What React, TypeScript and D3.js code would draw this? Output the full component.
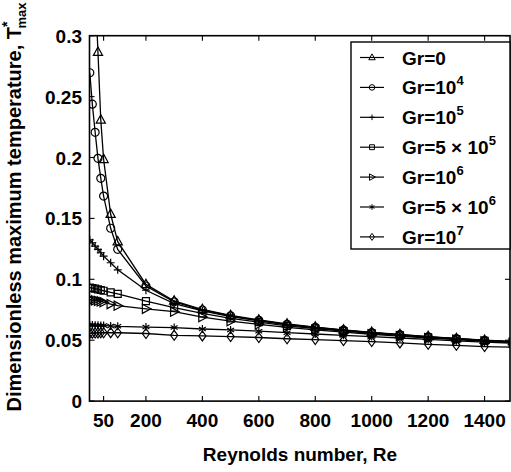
import React from 'react';
import * as d3 from 'd3';

const reValues = [1, 10, 20, 30, 40, 50, 75, 100, 200, 300, 400, 500, 600, 700, 800, 900, 1000, 1100, 1200, 1300, 1400, 1500];

const grZero = [null, null, 0.34, 0.2864, 0.2308, 0.1985, 0.1534, 0.1309, 0.0958, 0.0822, 0.0752, 0.0703, 0.0666, 0.0633, 0.0608, 0.0585, 0.0565, 0.0547, 0.0530, 0.0514, 0.0500, 0.0489];
const grE4 = [0.2696, 0.2438, 0.2207, 0.1993, 0.1829, 0.1683, 0.1419, 0.1246, 0.0945, 0.0815, 0.0748, 0.0700, 0.0663, 0.0630, 0.0606, 0.0583, 0.0563, 0.0545, 0.0528, 0.0513, 0.0499, 0.0488];
const grE5 = [0.1323, 0.1300, 0.1272, 0.1245, 0.1218, 0.1190, 0.1136, 0.1078, 0.0910, 0.0800, 0.0740, 0.0694, 0.0659, 0.0627, 0.0603, 0.0581, 0.0561, 0.0543, 0.0527, 0.0512, 0.0498, 0.0487];
const gr5E5 = [0.0931, 0.0928, 0.0924, 0.0918, 0.0912, 0.0906, 0.0893, 0.0880, 0.0820, 0.0768, 0.0720, 0.0680, 0.0648, 0.0618, 0.0596, 0.0575, 0.0556, 0.0539, 0.0523, 0.0509, 0.0495, 0.0485];
const grE6 = [0.0832, 0.0830, 0.0827, 0.0823, 0.0818, 0.0812, 0.0797, 0.0783, 0.0758, 0.0734, 0.0690, 0.0656, 0.0630, 0.0605, 0.0585, 0.0566, 0.0549, 0.0533, 0.0518, 0.0504, 0.0491, 0.0481];
const gr5E6 = [0.0625, 0.0624, 0.0623, 0.0622, 0.0621, 0.0620, 0.0617, 0.0614, 0.0608, 0.0604, 0.0592, 0.0584, 0.0574, 0.0562, 0.0551, 0.0540, 0.0530, 0.0518, 0.0506, 0.0495, 0.0484, 0.0476];
const grE7 = [0.0557, 0.0558, 0.0559, 0.0560, 0.0561, 0.0561, 0.0562, 0.0561, 0.0555, 0.0540, 0.0535, 0.0530, 0.0522, 0.0512, 0.0505, 0.0497, 0.0489, 0.0478, 0.0466, 0.0458, 0.0448, 0.0442];

const seriesValues = [grZero, grE4, grE5, gr5E5, grE6, gr5E6, grE7];
const seriesMarkers = ['triangle', 'circle', 'plus', 'square', 'right', 'star', 'diamond'];
const legendBase = ['Gr=0', 'Gr=10', 'Gr=10', 'Gr=5 \u00d7 10', 'Gr=10', 'Gr=5 \u00d7 10', 'Gr=10'];
const legendSup = ['', '4', '5', '5', '6', '6', '7'];

const xTicks = [50, 200, 400, 600, 800, 1000, 1200, 1400];
const yTicks = [0, 0.05, 0.1, 0.15, 0.2, 0.25, 0.3];
const yTickLabels = ['0', '0.05', '0.1', '0.15', '0.2', '0.25', '0.3'];

const FONT = '"Liberation Sans", Arial, Helvetica, sans-serif';

function markerPath(type: string, k: number): string {
  switch (type) {
    case 'triangle':
      return `M0,${-5.2 * k}L${4.6 * k},${3.2 * k}L${-4.6 * k},${3.2 * k}Z`;
    case 'circle': {
      const r = 4 * k;
      return `M${r},0A${r},${r} 0 1,1 ${-r},0A${r},${r} 0 1,1 ${r},0Z`;
    }
    case 'plus':
      return `M${-4 * k},0L${4 * k},0M0,${-4 * k}L0,${4 * k}`;
    case 'square':
      return `M${-3.5 * k},${-3.5 * k}L${3.5 * k},${-3.5 * k}L${3.5 * k},${3.5 * k}L${-3.5 * k},${3.5 * k}Z`;
    case 'right':
      return `M${-3.6 * k},${-4.6 * k}L${5 * k},0L${-3.6 * k},${4.6 * k}Z`;
    case 'star': {
      const a = 4 * k;
      const c = a * 0.866, s = a * 0.5;
      return `M0,${-a}L0,${a}M${-c},${-s}L${c},${s}M${-c},${s}L${c},${-s}`;
    }
    case 'diamond':
      return `M0,${-5 * k}L${3.6 * k},0L0,${5 * k}L${-3.6 * k},0Z`;
  }
  return '';
}

export default function App() {
  const W = 511, H = 472;
  const L = 89.5, R = 510, T = 35.7, B = 401.1;
  const x = d3.scaleLinear().domain([0, 1490]).range([L, R]);
  const y = d3.scaleLinear().domain([0, 0.3]).range([B, T]);

  const line = d3.line<[number, number | null]>()
    .defined(d => d[1] != null)
    .x(d => x(d[0]))
    .y(d => y(d[1] as number));

  const legX = 351, legY = 42, legW = 159, legH = 207;
  const legStep = 29.9;
  const legFirst = 57.5;

  return (
    <svg width={W} height={H} style={{ position: 'absolute', left: 0, top: 0, background: '#fff' }} fontFamily={FONT}>
      <defs>
        <clipPath id="plotClip">
          <rect x={L} y={T} width={R - L} height={B - T} />
        </clipPath>
      </defs>
      <rect x={0} y={0} width={W} height={H} fill="#fff" />
      <g clipPath="url(#plotClip)">
        {seriesValues.map((vals, si) => {
          const pts: [number, number | null][] = reValues.map((r, i) => [r, vals[i]]);
          return (
            <g key={si}>
              <path d={line(pts) || ''} fill="none" stroke="#000" strokeWidth={1.3} />
              {pts.filter(p => p[1] != null).map((p, i) => (
                <path key={i} d={markerPath(seriesMarkers[si], 1)}
                  transform={`translate(${x(p[0])},${y(p[1] as number)})`}
                  fill="none" stroke="#000" strokeWidth={1.2} />
              ))}
            </g>
          );
        })}
      </g>
      {/* frame */}
      <rect x={L} y={T} width={R - L} height={B - T} fill="none" stroke="#000" strokeWidth={1.6} />
      {/* ticks */}
      {xTicks.map(t => (
        <g key={'xt' + t}>
          <line x1={x(t)} x2={x(t)} y1={B} y2={B - 5} stroke="#000" strokeWidth={1.1} />
          <line x1={x(t)} x2={x(t)} y1={T} y2={T + 5} stroke="#000" strokeWidth={1.1} />
          <text x={x(t)} y={427} textAnchor="middle" fontSize={19} fontWeight="bold">{t}</text>
        </g>
      ))}
      {yTicks.map((t, i) => (
        <g key={'yt' + t}>
          <line x1={L} x2={L + 5} y1={y(t)} y2={y(t)} stroke="#000" strokeWidth={1.1} />
          <line x1={R} x2={R - 5} y1={y(t)} y2={y(t)} stroke="#000" strokeWidth={1.1} />
          <text x={82} y={y(t) + 7} textAnchor="end" fontSize={19} fontWeight="bold">{yTickLabels[i]}</text>
        </g>
      ))}
      {/* axis titles */}
      <text x={300} y={460.5} textAnchor="middle" fontSize={19} fontWeight="bold">Reynolds number, Re</text>
      <text transform="translate(20.5,207) rotate(-90)" textAnchor="middle" fontSize={20} fontWeight="bold">
        Dimensionless maximum temperature, T
        <tspan dy={-9} fontSize={14}>*</tspan>
        <tspan dx={-7} dy={14} fontSize={13}>max</tspan>
      </text>
      {/* legend */}
      <rect x={legX} y={legY} width={legW} height={legH} fill="#fff" stroke="#000" strokeWidth={1.4} />
      {seriesMarkers.map((m, i) => {
        const cy = legFirst + i * legStep;
        return (
          <g key={'lg' + i}>
            <line x1={360} x2={384} y1={cy} y2={cy} stroke="#000" strokeWidth={1.2} />
            <path d={markerPath(m, 0.7)} transform={`translate(372,${cy})`} fill="none" stroke="#000" strokeWidth={1} />
            <text x={402} y={cy + 7} fontSize={19} fontWeight="bold">
              {legendBase[i]}
              {legendSup[i] && <tspan dy={-9} fontSize={13}>{legendSup[i]}</tspan>}
            </text>
          </g>
        );
      })}
    </svg>
  );
}
